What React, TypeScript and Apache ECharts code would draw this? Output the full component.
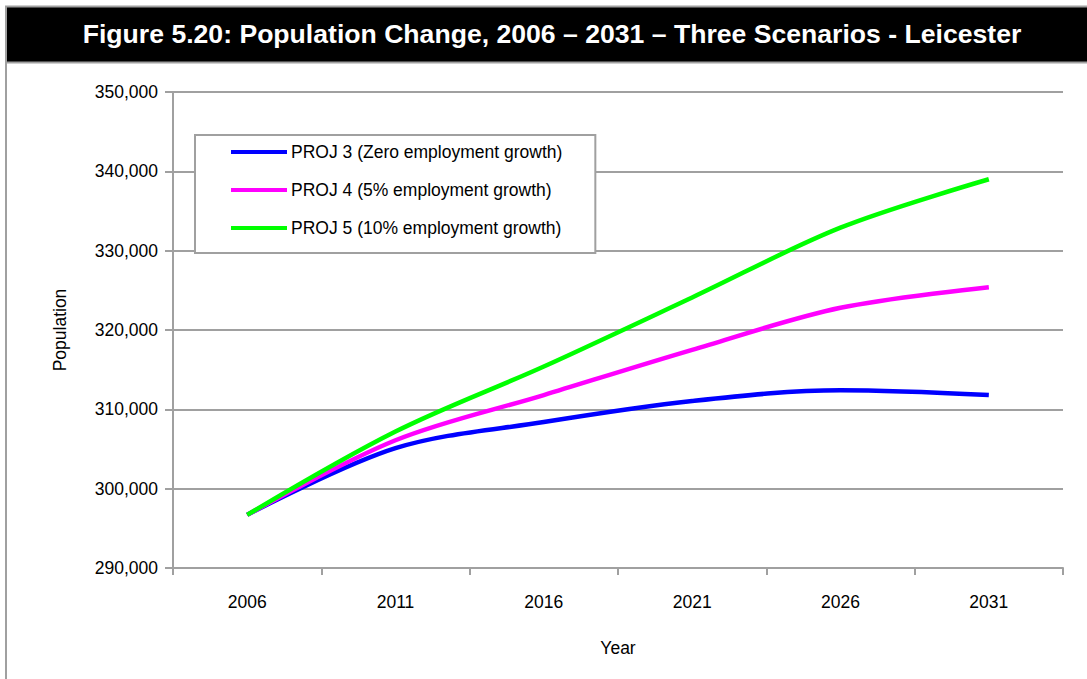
import React, { useEffect, useRef } from "react";
import * as echarts from "echarts";

const TITLE = "Figure 5.20: Population Change, 2006 – 2031 – Three Scenarios - Leicester";
const years = ["2006", "2011", "2016", "2021", "2026", "2031"];
const seriesNames = [
  "PROJ 3 (Zero employment growth)",
  "PROJ 4 (5% employment growth)",
  "PROJ 5 (10% employment growth)",
];
const proj3 = [296700, 305100, 308400, 311050, 312400, 311800];
const proj4 = [296700, 306100, 311800, 317500, 322800, 325400];
const proj5 = [296700, 307200, 315400, 324100, 332900, 339000];
const colors = ["#0000ff", "#ff00ff", "#00ff00"];

const FONT = "'Liberation Sans', Arial, sans-serif";
const FS = 17.5;

export default function App() {
  const ref = useRef<HTMLDivElement>(null);
  useEffect(() => {
    document.body.style.margin = "0";
    if (!ref.current) return;
    const chart = echarts.init(ref.current, null, { renderer: "svg" });
    const data = [proj3, proj4, proj5];
    chart.setOption({
      animation: false,
      backgroundColor: "#ffffff",
      textStyle: { fontFamily: FONT },
      graphic: [
        {
          type: "rect",
          shape: { x: 6, y: 6.5, width: 1100, height: 56 },
          style: { fill: "#000000", stroke: "#a0a0a0", lineWidth: 2 },
          z: 0,
        },
        {
          type: "line",
          shape: { x1: 6, y1: 62, x2: 6, y2: 690 },
          style: { stroke: "#a0a0a0", lineWidth: 2 },
        },
        {
          type: "text",
          x: 552,
          y: 34,
          style: {
            text: TITLE,
            fill: "#ffffff",
            font: `bold 26.6px ${FONT}`,
            textAlign: "center",
            textVerticalAlign: "middle",
          },
        },
      ],
      grid: { left: 173, right: 24, top: 92, bottom: 111, containLabel: false },
      legend: {
        orient: "vertical",
        left: 195,
        top: 135,
        padding: [7, 33, 15, 36],
        itemGap: 18,
        itemWidth: 56,
        itemHeight: 4,
        icon: "rect",
        borderColor: "#a0a0a0",
        borderWidth: 2,
        backgroundColor: "#ffffff",
        textStyle: { fontSize: FS, lineHeight: 20, color: "#000", fontFamily: FONT, padding: [0, 0, 0, -1] },
        data: seriesNames,
      },
      xAxis: {
        type: "category",
        data: years,
        boundaryGap: true,
        name: "Year",
        nameLocation: "middle",
        nameGap: 71,
        nameTextStyle: { fontSize: FS, color: "#000", fontFamily: FONT },
        axisLine: { lineStyle: { color: "#a0a0a0", width: 2 } },
        axisTick: { show: true, length: 7, lineStyle: { color: "#a0a0a0", width: 2 } },
        axisLabel: { fontSize: FS, color: "#000", margin: 25, fontFamily: FONT },
      },
      yAxis: {
        type: "value",
        min: 290000,
        max: 350000,
        interval: 10000,
        name: "Population",
        nameLocation: "middle",
        nameGap: 104,
        nameTextStyle: { fontSize: FS, color: "#000", fontFamily: FONT },
        axisLine: { show: true, lineStyle: { color: "#a0a0a0", width: 2 } },
        axisTick: { show: true, length: 8, lineStyle: { color: "#a0a0a0", width: 2 } },
        axisLabel: {
          fontSize: FS,
          color: "#000",
          margin: 15,
          fontFamily: FONT,
          formatter: (v: number) => v.toLocaleString("en-US"),
        },
        splitLine: { show: true, lineStyle: { color: "#a0a0a0", width: 2 } },
      },
      series: data.map((d, i) => ({
        name: seriesNames[i],
        type: "line",
        data: d,
        smooth: 0.33,
        showSymbol: false,
        symbol: "none",
        color: colors[i],
        lineStyle: { color: colors[i], width: 4.5 },
        itemStyle: { color: colors[i] },
        z: 2 + i,
      })),
    });
    return () => chart.dispose();
  }, []);
  return <div ref={ref} style={{ width: 1087, height: 679 }} />;
}
